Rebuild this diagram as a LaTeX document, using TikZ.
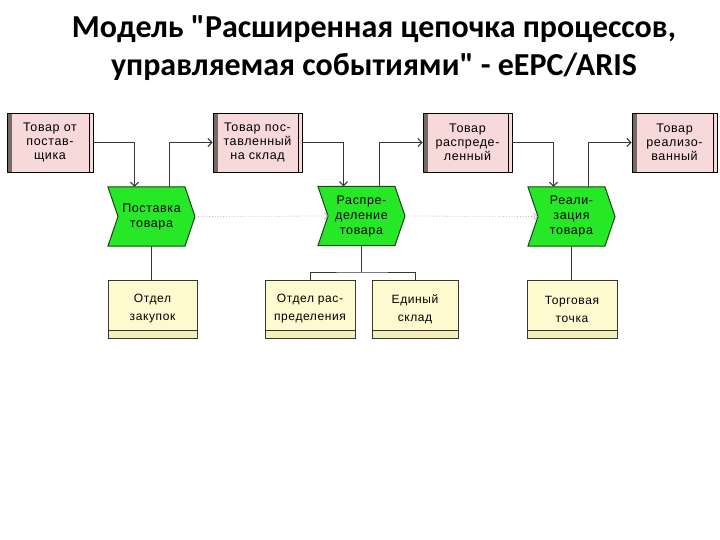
\documentclass[tikz,border=0pt]{standalone}
\usepackage{fontspec}
\setmainfont{Liberation Sans}
\newfontfamily\diafont[LetterSpace=5]{Liberation Sans}
\newfontfamily\titlefont{Carlito}
\usetikzlibrary{arrows.meta}
\definecolor{evfill}{RGB}{247,217,218}
\definecolor{evbar}{RGB}{120,105,105}
\definecolor{fngreen}{RGB}{38,232,38}
\definecolor{fnedge}{RGB}{20,70,20}
\definecolor{orgfill}{RGB}{252,250,206}
\definecolor{orgstrip}{RGB}{244,238,186}
\definecolor{conn}{RGB}{55,55,55}
\tikzset{
  evt/.style={draw=black, line width=0.9pt, fill=evfill, rectangle, minimum height=59pt,
    inner sep=0pt, align=center, font=\diafont\fontsize{12.5}{14}\selectfont,
    path picture={
      \fill[evbar] (path picture bounding box.north west) rectangle ([xshift=5pt]path picture bounding box.south west);
      \draw[black, line width=0.9pt] ([xshift=-4pt]path picture bounding box.north east) -- ([xshift=-4pt]path picture bounding box.south east);
    }},
  fnc/.style={rectangle, minimum width=87pt, minimum height=59pt, inner sep=0pt, align=center,
    font=\diafont\fontsize{12.5}{15}\selectfont},
  fnshape/.style={fill=fngreen, draw=fnedge, line width=1pt, line join=miter},
  org/.style={draw=conn, line width=1pt, fill=orgfill, rectangle, minimum height=58pt,
    inner sep=0pt, align=center, font=\diafont\fontsize{12}{18}\selectfont,
    path picture={
      \filldraw[orgbar] ([yshift=8pt]path picture bounding box.south west) rectangle (path picture bounding box.south east);
    }},
  orgbar/.style={draw=conn, line width=0.8pt, fill=orgstrip},
  link/.style={draw=conn, line width=1pt},
  arr/.style={link, -{Straight Barb[length=4pt,width=8pt]}},
  flow/.style={draw=gray!55, line width=0.8pt, dotted, -{Straight Barb[length=3pt,width=6pt]}},
  ttl/.style={anchor=base, font=\titlefont\bfseries\fontsize{32}{38}\selectfont}
}
\newcommand\fnbox[4]{% name, cx, cy, text
  \filldraw[fnshape, shift={(#2,#3)}] (-43.5,-29.5) -- (33.5,-29.5) -- (43.5,0)
    -- (33.5,29.5) -- (-43.5,29.5) -- (-33.5,0) -- cycle;
  \node[fnc] (#1) at (#2,#3) {#4};}
\begin{document}
\begin{tikzpicture}[x=1pt,y=-1pt]
\useasboundingbox[fill=white] (0,0) rectangle (720,540);
% title
\node[ttl] (t1) at (374,38) {Модель "Расширенная цепочка процессов,};
\node[ttl] (t2) at (374,76) {управляемая событиями" - eEPC/ARIS};
% events
\node[evt, minimum width=86pt] (e1) at (50,142.5) {Товар от\\постав-\\щика};
\node[evt, minimum width=89pt] (e2) at (257.5,142.5) {Товар пос-\\тавленный\\на склад};
\node[evt, minimum width=89pt] (e3) at (467.5,142.5) {Товар\\распреде-\\ленный};
\node[evt, minimum width=85pt] (e4) at (674.5,142.5) {Товар\\реализо-\\ванный};
% functions
\fnbox{f1}{151.5}{216.5}{Поставка\\товара}
\fnbox{f2}{361.5}{216}{Распре-\\деление\\товара}
\fnbox{f3}{571.5}{216.5}{Реали-\\зация\\товара}
% org units
\node[org, minimum width=89pt] (o1) at (152.5,309) {Отдел\\закупок};
\node[org, minimum width=90pt] (o2) at (310,309) {Отдел рас-\\пределения};
\node[org, minimum width=86pt] (o3) at (415,309) {Единый\\склад};
\node[org, minimum width=90pt] (o4) at (572,309) {Торговая\\точка};
% control flow
\draw[arr] (e1.east) -| ([xshift=-17pt]f1.north);
\draw[arr] ([xshift=18pt]f1.north) |- (e2.west);
\draw[arr] (e2.east) -| ([xshift=-18pt]f2.north);
\draw[arr] ([xshift=18pt]f2.north) |- (e3.west);
\draw[arr] (e3.east) -| ([xshift=-18pt]f3.north);
\draw[arr] ([xshift=17pt]f3.north) |- (e4.west);
% dotted flow
\draw[flow] (f1.east) -- ([xshift=10pt]f2.west);
\draw[flow] (f2.east) -- ([xshift=10pt]f3.west);
% org links
\coordinate (j) at (361.5,272);
\draw[link] (f1.south) -- (o1.north -| f1.south);
\draw[link] (f2.south) -- (j);
\draw[link] (o2.north) |- (j) -| (o3.north);
\draw[link] (f3.south) -- (o4.north -| f3.south);
\end{tikzpicture}
\end{document}
